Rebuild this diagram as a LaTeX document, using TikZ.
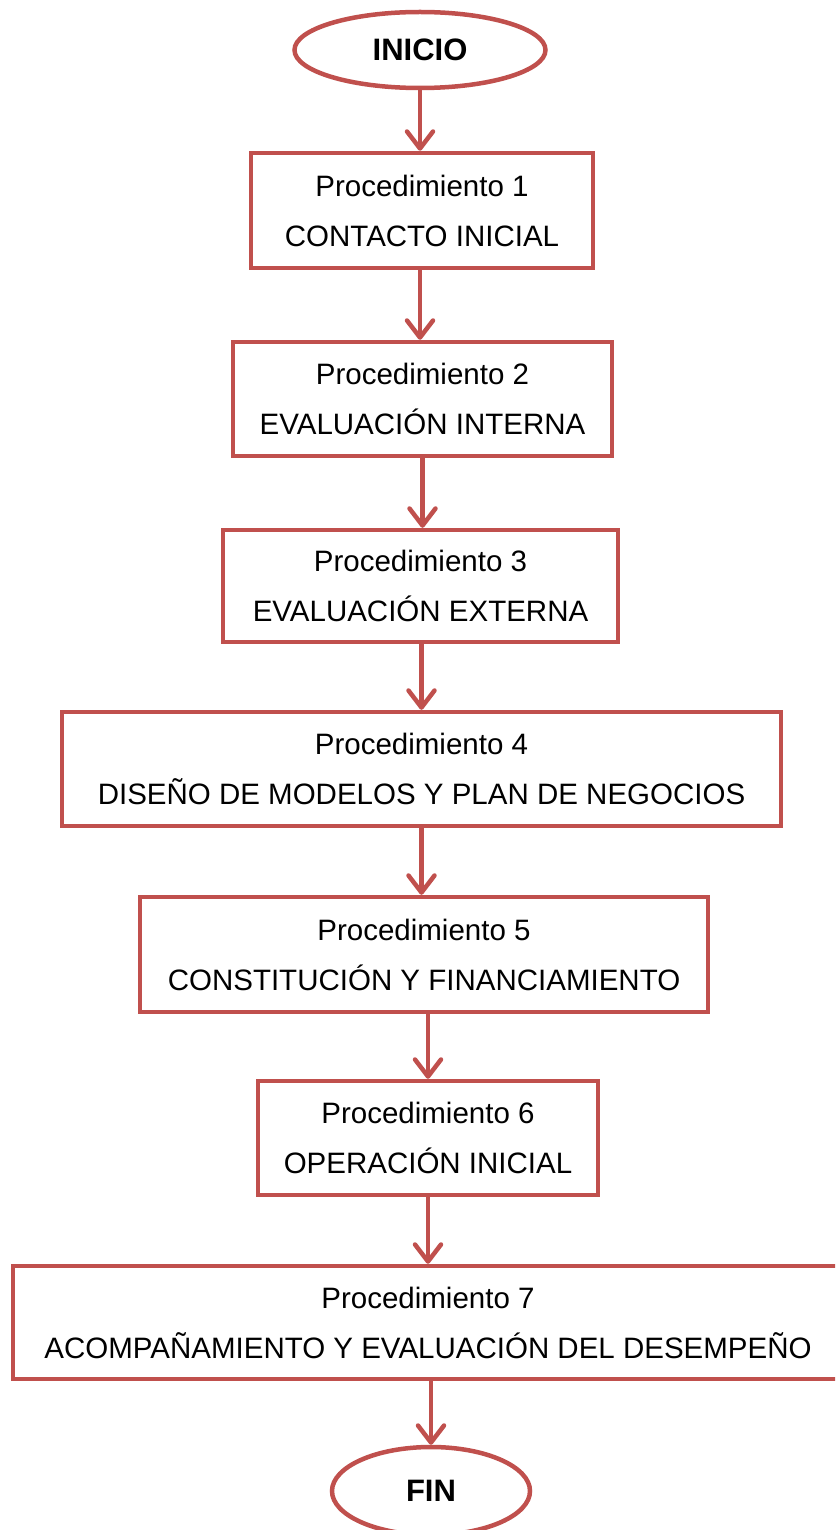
\documentclass[tikz,border=0pt]{standalone}
\usepackage{fontspec}
\setmainfont{Liberation Sans}
\usetikzlibrary{shapes.geometric,arrows.meta}
\definecolor{boxred}{HTML}{C0504D}
\tikzset{
  procbox/.style={draw=boxred, line width=4.5pt, rectangle, inner sep=0pt, align=center,
    font=\fontsize{29.5}{50}\selectfont, text=black},
  term/.style={draw=boxred, line width=4.5pt, ellipse, inner sep=0pt,
    font=\fontsize{31}{36}\selectfont\bfseries, text=black},
  flow/.style={draw=boxred, line width=4.5pt, line cap=round,
    -{Straight Barb[length=17pt,width=26pt,round]}}
}
\begin{document}
\begin{tikzpicture}[x=1pt,y=-1pt]
\useasboundingbox (0,0) rectangle (835,1530);
\clip (0,0) rectangle (835,1530);
\node[term, minimum width=251pt, minimum height=76pt] (ini) at (420,50) {INICIO};
\node[procbox, minimum width=342pt, minimum height=115pt] (p1) at (422,210.5) {Procedimiento 1\\CONTACTO INICIAL};
\node[procbox, minimum width=379pt, minimum height=114pt] (p2) at (422.5,399) {Procedimiento 2\\EVALUACIÓN INTERNA};
\node[procbox, minimum width=395pt, minimum height=112pt] (p3) at (420.5,586) {Procedimiento 3\\EVALUACIÓN EXTERNA};
\node[procbox, minimum width=719pt, minimum height=114pt] (p4) at (421.5,769) {Procedimiento 4\\DISEÑO DE MODELOS Y PLAN DE NEGOCIOS};
\node[procbox, minimum width=568pt, minimum height=115pt] (p5) at (424,954.5) {Procedimiento 5\\CONSTITUCIÓN Y FINANCIAMIENTO};
\node[procbox, minimum width=340pt, minimum height=114pt] (p6) at (428,1138) {Procedimiento 6\\OPERACIÓN INICIAL};
\node[procbox, minimum width=830pt, minimum height=113pt] (p7) at (428,1322.5) {Procedimiento 7\\ACOMPAÑAMIENTO Y EVALUACIÓN DEL DESEMPEÑO};
\node[term, minimum width=198pt, minimum height=88pt] (fin) at (431,1491) {FIN};
\draw[flow] (ini.south) -- (ini.south |- p1.north);
\draw[flow] (ini.south |- p1.south) -- (ini.south |- p2.north);
\draw[flow] (p2.south) -- (p2.south |- p3.north);
\draw[flow] (p4.north |- p3.south) -- (p4.north);
\draw[flow] (p4.south) -- (p4.south |- p5.north);
\draw[flow] (p6.north |- p5.south) -- (p6.north);
\draw[flow] (p6.south) -- (p6.south |- p7.north);
\draw[flow] (fin.north |- p7.south) -- (fin.north);
\end{tikzpicture}
\end{document}
